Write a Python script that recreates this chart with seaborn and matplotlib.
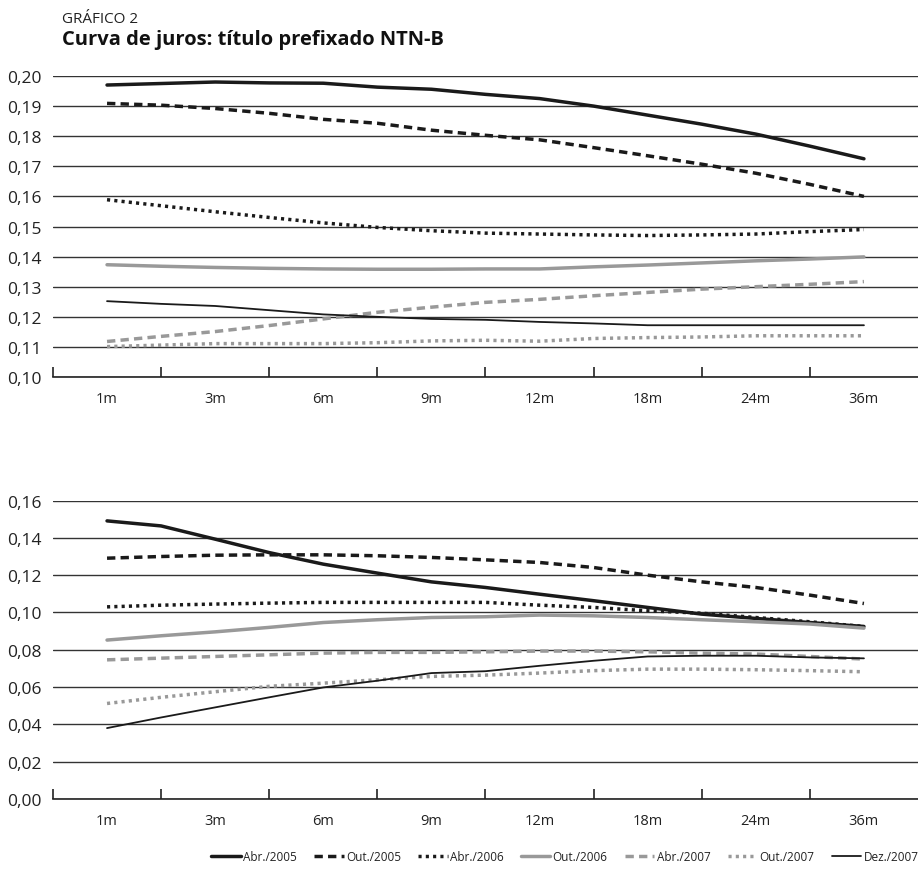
import numpy as np
import pandas as pd
import matplotlib
matplotlib.use("Agg")
import matplotlib.pyplot as plt
import seaborn as sns

# Maturity labels (points are also read half-way between labels)
maturities = ['1m', '3m', '6m', '9m', '12m', '18m', '24m', '36m']
pos = np.arange(15) * 0.5

series_names = ['Abr./2005', 'Out./2005', 'Abr./2006', 'Out./2006',
                'Abr./2007', 'Out./2007', 'Dez./2007']

# Top panel
abr05_top = [0.1970, 0.1975, 0.1980, 0.1977, 0.1976, 0.1963, 0.1956, 0.1939,
             0.1925, 0.1900, 0.1870, 0.1840, 0.1807, 0.1767, 0.1725]
out05_top = [0.1909, 0.1903, 0.1892, 0.1876, 0.1856, 0.1843, 0.1820, 0.1803,
             0.1788, 0.1762, 0.1735, 0.1707, 0.1677, 0.1640, 0.1600]
abr06_top = [0.1589, 0.1569, 0.1549, 0.1530, 0.1512, 0.1497, 0.1486, 0.1478,
             0.1475, 0.1472, 0.1470, 0.1472, 0.1475, 0.1483, 0.1490]
out06_top = [0.1373, 0.1368, 0.1364, 0.1361, 0.1359, 0.1358, 0.1358, 0.1359,
             0.1359, 0.1366, 0.1372, 0.1379, 0.1386, 0.1392, 0.1399]
abr07_top = [0.1118, 0.1135, 0.1151, 0.1171, 0.1193, 0.1215, 0.1232, 0.1248,
             0.1258, 0.1270, 0.1281, 0.1292, 0.1300, 0.1308, 0.1317]
out07_top = [0.1101, 0.1106, 0.1111, 0.1111, 0.1111, 0.1114, 0.1120, 0.1122,
             0.1119, 0.1128, 0.1131, 0.1133, 0.1137, 0.1137, 0.1137]
dez07_top = [0.1252, 0.1243, 0.1236, 0.1222, 0.1208, 0.1200, 0.1193, 0.1190,
             0.1183, 0.1178, 0.1172, 0.1172, 0.1172, 0.1172, 0.1172]

# Bottom panel
abr05_bot = [0.1491, 0.1464, 0.1393, 0.1321, 0.1259, 0.1211, 0.1164, 0.1134,
             0.1098, 0.1063, 0.1027, 0.0991, 0.0968, 0.0946, 0.0925]
out05_bot = [0.1291, 0.1300, 0.1307, 0.1309, 0.1309, 0.1304, 0.1295, 0.1282,
             0.1268, 0.1241, 0.1200, 0.1164, 0.1134, 0.1093, 0.1048]
abr06_bot = [0.1030, 0.1039, 0.1045, 0.1050, 0.1054, 0.1054, 0.1054, 0.1054,
             0.1039, 0.1027, 0.1009, 0.0996, 0.0973, 0.0950, 0.0925]
out06_bot = [0.0852, 0.0875, 0.0896, 0.0920, 0.0946, 0.0961, 0.0973, 0.0977,
             0.0986, 0.0982, 0.0973, 0.0961, 0.0950, 0.0938, 0.0916]
abr07_bot = [0.0746, 0.0755, 0.0764, 0.0773, 0.0782, 0.0786, 0.0786, 0.0789,
             0.0793, 0.0793, 0.0789, 0.0782, 0.0777, 0.0764, 0.0750]
out07_bot = [0.0512, 0.0545, 0.0575, 0.0604, 0.0621, 0.0639, 0.0657, 0.0664,
             0.0675, 0.0688, 0.0696, 0.0696, 0.0693, 0.0688, 0.0682]
dez07_bot = [0.0380, 0.0437, 0.0491, 0.0545, 0.0598, 0.0634, 0.0675, 0.0685,
             0.0714, 0.0741, 0.0764, 0.0768, 0.0768, 0.0759, 0.0754]

top_data = [abr05_top, out05_top, abr06_top, out06_top, abr07_top, out07_top, dez07_top]
bot_data = [abr05_bot, out05_bot, abr06_bot, out06_bot, abr07_bot, out07_bot, dez07_bot]

sns.set_style("white")
plt.rcParams['font.family'] = ['Open Sans', 'DejaVu Sans']

black = '#1a1a1a'
gray = '#999999'
styles = [
    dict(color=black, lw=2.5, linestyle='-'),
    dict(color=black, lw=2.5, linestyle=(0, (2.4, 1.5))),
    dict(color=black, lw=2.5, linestyle=(0, (0.9, 1.2))),
    dict(color=gray, lw=2.5, linestyle='-'),
    dict(color=gray, lw=2.5, linestyle=(0, (2.4, 1.5))),
    dict(color=gray, lw=2.5, linestyle=(0, (0.9, 1.2))),
    dict(color=black, lw=1.3, linestyle='-'),
]

fig = plt.figure(figsize=(9.18, 8.7), dpi=100)
ax1 = fig.add_axes([0.0577, 0.5655, 0.9423, 0.346])
ax2 = fig.add_axes([0.0577, 0.0805, 0.9423, 0.343])


def draw_panel(ax, data, ylim, step):
    for name, vals, st in zip(series_names, data, styles):
        df = pd.DataFrame({'pos': pos, 'val': vals})
        sns.lineplot(data=df, x='pos', y='val', ax=ax, label=name,
                     color=st['color'], linewidth=st['lw'],
                     linestyle=st['linestyle'], legend=False)
    ax.set_xlim(-0.5, 7.5)
    ax.set_ylim(*ylim)
    yt = np.round(np.arange(ylim[0], ylim[1] + step / 2, step), 2)
    ax.set_yticks(yt)
    ax.set_yticklabels([f"{v:.2f}".replace('.', ',') for v in yt])
    ax.yaxis.grid(True, color='#333333', lw=1.0)
    ax.set_axisbelow(True)
    ax.set_xticks(range(len(maturities)))
    ax.set_xticklabels(maturities)
    ax.set_xticks(np.arange(-0.5, 7.0, 1.0), minor=True)
    ax.tick_params(axis='x', which='major', bottom=True, length=0, pad=10,
                   labelsize=10.5, colors='#222222')
    ax.tick_params(axis='x', which='minor', bottom=True, length=7.5, width=1.2,
                   direction='in', color='#222222')
    ax.tick_params(axis='y', length=0, pad=8, labelsize=12.5, colors='#222222')
    for s in ['left', 'right', 'top']:
        ax.spines[s].set_visible(False)
    ax.spines['bottom'].set_color('#222222')
    ax.spines['bottom'].set_linewidth(1.2)
    ax.set_xlabel('')
    ax.set_ylabel('')


draw_panel(ax1, top_data, (0.10, 0.20), 0.01)
draw_panel(ax2, bot_data, (0.00, 0.16), 0.02)

fig.text(0.0675, 0.978, 'GRÁFICO 2', fontsize=11, color='#222222', va='center')
fig.text(0.0675, 0.954, 'Curva de juros: título prefixado NTN-B', fontsize=14.5,
         fontweight='bold', color='#111111', va='center')

handles, labels = ax1.get_legend_handles_labels()
fig.legend(handles, labels, loc='lower right', bbox_to_anchor=(1.012, -0.005),
           ncol=7, frameon=False, fontsize=8.5, handlelength=2.5,
           handletextpad=0.2, columnspacing=1.45, labelcolor='#222222')

fig.savefig('out.png', dpi=100)
